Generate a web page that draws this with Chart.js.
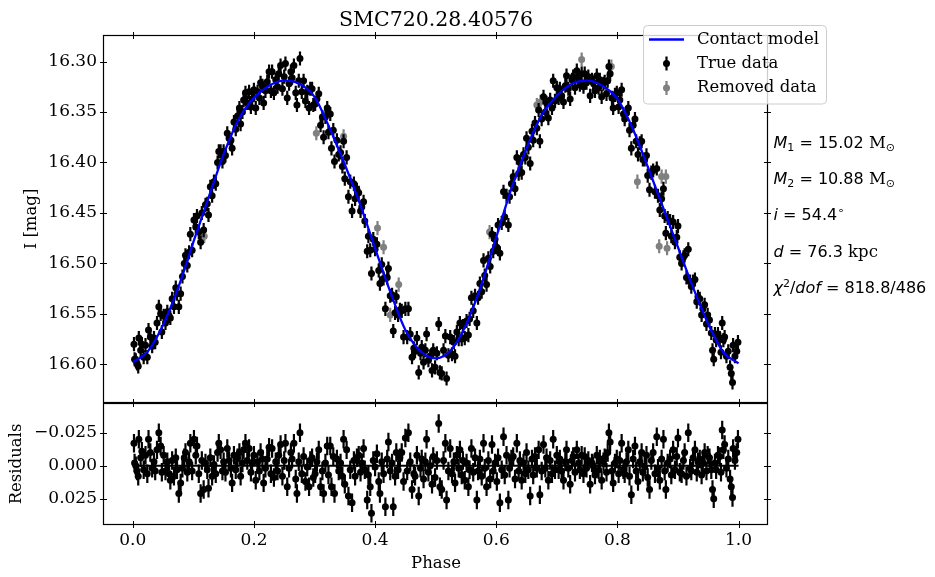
<!DOCTYPE html>
<html>
<head>
<meta charset="utf-8">
<script src="https://cdn.jsdelivr.net/npm/chart.js@4.4.0/dist/chart.umd.min.js"></script>
<style>
  html, body { margin: 0; padding: 0; background: #fff; }
  #wrap { position: relative; width: 935px; height: 577px; }
  #wrap canvas { position: absolute; left: 0; top: 0; }
</style>
</head>
<body>
<div id="wrap">
  <canvas id="lcChart" width="935" height="577"></canvas>
  <canvas id="resChart" width="935" height="577"></canvas>
</div>
<script>
// contact model curve
var modelPhase = [0.000, 0.025, 0.050, 0.075, 0.100, 0.125, 0.150, 0.175, 0.200, 0.225,
  0.250, 0.275, 0.300, 0.325, 0.350, 0.375, 0.400, 0.425, 0.450, 0.475,
  0.500, 0.525, 0.550, 0.575, 0.600, 0.625, 0.650, 0.675, 0.700, 0.725,
  0.750, 0.775, 0.800, 0.825, 0.850, 0.875, 0.900, 0.925, 0.950, 0.975, 1.000];
var modelMag = [16.598, 16.587, 16.561, 16.524, 16.479, 16.435, 16.392, 16.357, 16.336, 16.324,
  16.319, 16.322, 16.335, 16.366, 16.402, 16.441, 16.485, 16.528, 16.566, 16.587,
  16.594, 16.586, 16.561, 16.522, 16.474, 16.426, 16.386, 16.353, 16.334, 16.322,
  16.319, 16.324, 16.337, 16.366, 16.404, 16.444, 16.484, 16.524, 16.560, 16.588, 16.599];

// kept observations (black)
var truePhase = [
  0.002, 0.003, 0.005, 0.007, 0.009, 0.010, 0.013, 0.015, 0.018, 0.021,
  0.024, 0.026, 0.029, 0.032, 0.035, 0.037, 0.040, 0.043, 0.046, 0.048,
  0.051, 0.054, 0.057, 0.060, 0.062, 0.065, 0.068, 0.071, 0.073, 0.076,
  0.079, 0.082, 0.085, 0.087, 0.090, 0.093, 0.095, 0.098, 0.101, 0.104,
  0.106, 0.109, 0.112, 0.114, 0.117, 0.120, 0.123, 0.125, 0.128, 0.131,
  0.134, 0.137, 0.140, 0.142, 0.145, 0.148, 0.150, 0.153, 0.156, 0.159,
  0.162, 0.164, 0.167, 0.170, 0.173, 0.176, 0.178, 0.181, 0.183, 0.186,
  0.189, 0.192, 0.195, 0.197, 0.200, 0.203, 0.206, 0.209, 0.211, 0.214,
  0.216, 0.219, 0.222, 0.225, 0.228, 0.230, 0.233, 0.236, 0.239, 0.241,
  0.244, 0.247, 0.250, 0.252, 0.255, 0.258, 0.261, 0.263, 0.266, 0.269,
  0.271, 0.274, 0.276, 0.279, 0.282, 0.285, 0.288, 0.291, 0.293, 0.296,
  0.298, 0.301, 0.304, 0.307, 0.310, 0.313, 0.315, 0.318, 0.321, 0.323,
  0.326, 0.328, 0.331, 0.333, 0.337, 0.340, 0.343, 0.346, 0.348, 0.350,
  0.353, 0.356, 0.359, 0.362, 0.365, 0.367, 0.370, 0.373, 0.376, 0.378,
  0.381, 0.383, 0.387, 0.389, 0.392, 0.394, 0.397, 0.400, 0.403, 0.406,
  0.408, 0.411, 0.414, 0.417, 0.420, 0.422, 0.425, 0.428, 0.430, 0.433,
  0.435, 0.438, 0.441, 0.444, 0.447, 0.450, 0.453, 0.455, 0.458, 0.461,
  0.464, 0.466, 0.469, 0.472, 0.475, 0.477, 0.480, 0.483, 0.485, 0.488,
  0.491, 0.494, 0.496, 0.499, 0.502, 0.505, 0.507, 0.510, 0.513, 0.516,
  0.518, 0.521, 0.524, 0.527, 0.530, 0.532, 0.535, 0.538, 0.540, 0.543,
  0.545, 0.548, 0.551, 0.554, 0.556, 0.559, 0.562, 0.565, 0.568, 0.570,
  0.573, 0.576, 0.579, 0.581, 0.584, 0.587, 0.590, 0.593, 0.595, 0.598,
  0.601, 0.603, 0.606, 0.609, 0.612, 0.614, 0.617, 0.620, 0.622, 0.625,
  0.628, 0.631, 0.634, 0.637, 0.639, 0.642, 0.645, 0.648, 0.650, 0.653,
  0.656, 0.659, 0.661, 0.664, 0.667, 0.670, 0.672, 0.675, 0.678, 0.681,
  0.683, 0.686, 0.689, 0.692, 0.694, 0.697, 0.700, 0.703,
  0.705, 0.708, 0.711, 0.714, 0.716, 0.719, 0.722, 0.725, 0.727, 0.730,
  0.733, 0.736, 0.738, 0.741, 0.744, 0.746, 0.749, 0.752, 0.755, 0.758,
  0.760, 0.763, 0.766, 0.769, 0.771, 0.774, 0.777, 0.779, 0.782, 0.784,
  0.786, 0.788, 0.791, 0.793, 0.796, 0.799, 0.802, 0.804, 0.807, 0.810,
  0.812, 0.815, 0.818, 0.820, 0.823, 0.826, 0.829, 0.831, 0.834, 0.837,
  0.840, 0.842, 0.845, 0.848, 0.850, 0.853, 0.856, 0.859, 0.862, 0.865,
  0.867, 0.870, 0.873, 0.876, 0.878, 0.880, 0.883, 0.887, 0.889, 0.892,
  0.895, 0.898, 0.900, 0.903, 0.906, 0.909, 0.911, 0.914, 0.917, 0.920,
  0.922, 0.925, 0.928, 0.931, 0.933, 0.936, 0.939, 0.941, 0.944, 0.947,
  0.949, 0.952, 0.955, 0.957, 0.959, 0.961, 0.963, 0.966, 0.969, 0.971,
  0.973, 0.975, 0.977, 0.980, 0.983, 0.986, 0.988, 0.990, 0.991, 0.994, 0.997, 0.999];
var trueMag = [
  16.580, 16.595, 16.596, 16.599, 16.602, 16.574, 16.586, 16.580, 16.593, 16.581,
  16.593, 16.566, 16.573, 16.582, 16.574, 16.578, 16.559, 16.543, 16.550, 16.568,
  16.552, 16.559, 16.548, 16.552, 16.554, 16.535, 16.543, 16.524, 16.530, 16.543,
  16.530, 16.513, 16.500, 16.492, 16.502, 16.489, 16.471, 16.487, 16.457, 16.464,
  16.453, 16.469, 16.479, 16.450, 16.467, 16.442, 16.441, 16.452, 16.424, 16.433,
  16.419, 16.421, 16.400, 16.389, 16.389, 16.399, 16.389, 16.393, 16.371, 16.376,
  16.378, 16.386, 16.360, 16.367, 16.354, 16.346, 16.362, 16.350, 16.338, 16.331,
  16.341, 16.330, 16.345, 16.337, 16.328, 16.346, 16.330, 16.336, 16.321, 16.324,
  16.341, 16.329, 16.320, 16.310, 16.329, 16.310, 16.331, 16.318, 16.325, 16.312,
  16.304, 16.327, 16.315, 16.302, 16.336, 16.322, 16.310, 16.316, 16.304, 16.331,
  16.343, 16.319, 16.297, 16.330, 16.319, 16.339, 16.330, 16.346, 16.327, 16.327,
  16.343, 16.342, 16.337, 16.332, 16.363, 16.355, 16.375, 16.355, 16.346, 16.370,
  16.352, 16.386, 16.368, 16.399, 16.378, 16.392, 16.390, 16.404, 16.379, 16.416,
  16.395, 16.434, 16.419, 16.448, 16.421, 16.436, 16.427, 16.430, 16.448, 16.444,
  16.439, 16.458, 16.488, 16.473, 16.487, 16.510, 16.476, 16.486, 16.481, 16.507,
  16.520, 16.501, 16.515, 16.545, 16.514, 16.505, 16.532, 16.531, 16.567, 16.549,
  16.533, 16.551, 16.546, 16.547, 16.573, 16.545, 16.573, 16.545, 16.570, 16.593,
  16.584, 16.587, 16.574, 16.608, 16.589, 16.583, 16.598, 16.586, 16.570, 16.596,
  16.592, 16.606, 16.586, 16.603, 16.589, 16.560, 16.608, 16.609, 16.586, 16.572,
  16.614, 16.591, 16.573, 16.590, 16.578, 16.592, 16.568, 16.575, 16.559, 16.575,
  16.562, 16.574, 16.557, 16.571, 16.555, 16.534, 16.547, 16.532, 16.559, 16.534,
  16.520, 16.528, 16.497, 16.512, 16.521, 16.495, 16.503, 16.471, 16.488, 16.476,
  16.484, 16.462, 16.490, 16.460, 16.429, 16.454, 16.433, 16.462, 16.434, 16.421,
  16.414, 16.426, 16.395, 16.411, 16.400, 16.410, 16.392, 16.395, 16.376, 16.385,
  16.401, 16.369, 16.378, 16.361, 16.366, 16.348, 16.379, 16.357, 16.335, 16.350,
  16.341, 16.356, 16.338, 16.346, 16.319, 16.339, 16.326, 16.336,
  16.327, 16.334, 16.340, 16.324, 16.314, 16.327, 16.337, 16.318, 16.315, 16.326,
  16.309, 16.318, 16.323, 16.312, 16.325, 16.312, 16.321, 16.315, 16.334, 16.318,
  16.321, 16.329, 16.314, 16.326, 16.318, 16.335, 16.322, 16.320, 16.332, 16.319,
  16.305, 16.312, 16.336, 16.346, 16.333, 16.331, 16.345, 16.338, 16.328, 16.352,
  16.357, 16.351, 16.346, 16.368, 16.386, 16.363, 16.357, 16.379, 16.392, 16.381,
  16.379, 16.397, 16.397, 16.393, 16.413, 16.427, 16.410, 16.408, 16.429, 16.406,
  16.433, 16.447, 16.436, 16.426, 16.453, 16.470, 16.455, 16.458, 16.473, 16.459,
  16.479, 16.474, 16.463, 16.494, 16.500, 16.494, 16.492, 16.514, 16.486, 16.518,
  16.523, 16.518, 16.516, 16.538, 16.533, 16.535, 16.551, 16.545, 16.541, 16.560,
  16.551, 16.556, 16.569, 16.586, 16.595, 16.570, 16.576, 16.570, 16.574, 16.588,
  16.559, 16.576, 16.573, 16.592, 16.587, 16.603, 16.609, 16.618, 16.581, 16.592, 16.587, 16.578];
var trueRes = [
  -0.017, -0.002, 0.000, 0.004, 0.008, -0.020, -0.006, -0.011, 0.003, -0.008,
  0.006, -0.020, -0.010, 0.002, -0.003, 0.004, -0.012, -0.025, -0.015, 0.005,
  -0.008, 0.004, -0.003, 0.006, 0.011, -0.004, 0.008, -0.006, 0.003, 0.021,
  0.013, 0.002, -0.006, -0.010, 0.005, -0.003, -0.017, 0.004, -0.020, -0.008,
  -0.015, 0.006, 0.021, -0.004, 0.018, -0.002, 0.003, 0.017, -0.006, 0.008,
  -0.001, 0.006, -0.010, -0.017, -0.012, 0.004, -0.003, 0.005, -0.013, -0.004,
  0.002, 0.013, -0.008, 0.003, -0.006, -0.010, 0.008, -0.002, -0.012, -0.017,
  -0.004, -0.013, 0.005, -0.002, -0.008, 0.011, -0.003, 0.004, -0.010, -0.005,
  0.013, 0.002, -0.005, -0.014, 0.006, -0.013, 0.009, -0.003, 0.004, -0.008,
  -0.016, 0.008, -0.004, -0.017, 0.016, 0.002, -0.010, -0.005, -0.017, 0.010,
  0.021, -0.003, -0.025, 0.006, -0.007, 0.012, 0.001, 0.016, -0.004, -0.006,
  0.009, 0.006, -0.003, -0.012, 0.016, 0.004, 0.021, -0.002, -0.015, 0.007,
  -0.015, 0.016, -0.007, 0.021, -0.005, 0.004, -0.002, 0.008, -0.020, 0.014,
  -0.012, 0.023, 0.003, 0.028, -0.004, 0.008, -0.006, -0.008, 0.005, -0.002,
  -0.013, 0.003, 0.026, 0.007, 0.016, 0.036, -0.004, 0.001, -0.009, 0.012,
  0.021, -0.003, 0.006, 0.031, -0.005, -0.018, 0.004, -0.002, 0.031, 0.008,
  -0.010, 0.003, -0.006, -0.010, 0.012, -0.021, 0.004, -0.025, -0.003, 0.018,
  0.006, 0.008, -0.008, 0.023, 0.002, -0.005, 0.010, -0.003, -0.020, 0.005,
  0.000, 0.014, -0.007, 0.009, -0.004, -0.032, 0.016, 0.018, -0.004, -0.017,
  0.026, 0.004, -0.013, 0.006, -0.003, 0.013, -0.008, 0.002, -0.012, 0.007,
  -0.004, 0.011, -0.002, 0.016, 0.003, -0.013, 0.005, -0.006, 0.026, 0.004,
  -0.005, 0.008, -0.017, 0.002, 0.016, -0.004, 0.010, -0.016, 0.004, -0.002,
  0.012, -0.006, 0.028, 0.003, -0.022, 0.007, -0.008, 0.026, 0.002, -0.005,
  -0.007, 0.010, -0.017, 0.004, -0.004, 0.011, -0.002, 0.006, -0.010, 0.003,
  0.023, -0.005, 0.007, -0.007, 0.002, -0.012, 0.022, 0.004, -0.016, 0.002,
  -0.006, 0.011, -0.004, 0.006, -0.020, 0.003, -0.008, 0.003,
  -0.005, 0.004, 0.011, -0.003, -0.012, 0.002, 0.014, -0.004, -0.007, 0.005,
  -0.012, -0.002, 0.003, -0.008, 0.006, -0.007, 0.002, -0.004, 0.014, -0.002,
  0.000, 0.007, -0.008, 0.003, -0.005, 0.011, -0.003, -0.006, 0.005, -0.010,
  -0.025, -0.018, 0.004, 0.013, -0.002, -0.005, 0.006, -0.004, -0.017, 0.003,
  0.006, -0.003, -0.012, 0.008, 0.022, -0.005, -0.015, 0.004, 0.012, -0.003,
  -0.010, 0.005, 0.001, -0.008, 0.009, 0.018, -0.004, -0.010, 0.006, -0.022,
  0.002, 0.011, -0.005, -0.020, 0.004, 0.018, -0.002, -0.005, 0.007, -0.012,
  0.003, -0.007, -0.021, 0.005, 0.006, -0.004, -0.010, 0.008, -0.025, 0.002,
  0.004, -0.006, -0.012, 0.005, -0.003, -0.005, 0.007, -0.002, -0.010, 0.004,
  -0.008, -0.006, 0.003, 0.018, 0.025, -0.002, 0.003, -0.008, -0.007, 0.005,
  -0.027, -0.012, -0.016, 0.002, -0.005, 0.010, 0.016, 0.024, -0.013, -0.004, -0.010, -0.020];

// removed observations (grey)
var removedPhase = [0.118, 0.303, 0.348, 0.404, 0.414, 0.425, 0.439, 0.589, 0.667,
  0.673, 0.741, 0.790, 0.833, 0.869, 0.873, 0.880, 0.882];
var removedMag = [16.473, 16.371, 16.374, 16.465, 16.484, 16.551, 16.521, 16.469, 16.343,
  16.340, 16.298, 16.305, 16.419, 16.483, 16.414, 16.414, 16.485];

var magErr = 0.007;

var phaseTicks = [0.0, 0.2, 0.4, 0.6, 0.8, 1.0];
var magTicks = [16.30, 16.35, 16.40, 16.45, 16.50, 16.55, 16.60];
var resTicks = [-0.025, 0.0, 0.025];

var fitLines = [
  [['M', 'mi'], ['1', 'sub'], [' = 15.02', 'm'], [' M', 'rm'], ['\u2299', 'sub']],
  [['M', 'mi'], ['2', 'sub'], [' = 10.88', 'm'], [' M', 'rm'], ['\u2299', 'sub']],
  [['i', 'mi'], [' = 54.4', 'm'], ['\u2218', 'sup']],
  [['d', 'mi'], [' = 76.3', 'm'], [' kpc', 'rm']],
  [['\u03c7', 'mi'], ['2', 'sup'], ['/', 'm'], ['dof', 'mi'], [' = 818.8/486', 'm']]
];

var SERIF = '"DejaVu Serif", serif';
var fitFonts = {
  mi: ['italic 16px "DejaVu Sans"', 0],
  m: ['16px "DejaVu Sans"', 0],
  rm: ['16.5px ' + SERIF, 0],
  sub: ['11px "DejaVu Sans"', 3.5],
  sup: ['11px "DejaVu Sans"', -6.5]
};

function pts(xs, ys) {
  return xs.map(function (x, i) { return { x: x, y: ys[i] }; });
}

// error bars, drawn just before each dataset's dots
var errorBars = {
  id: 'errorBars',
  beforeDatasetDraw: function (chart, args) {
    var ds = chart.data.datasets[args.index];
    if (!ds.errorBar) return;
    var ctx = chart.ctx, ys = chart.scales.y;
    ctx.save();
    ctx.strokeStyle = ds.backgroundColor;
    ctx.lineWidth = 2.2;
    ctx.beginPath();
    args.meta.data.forEach(function (el, i) {
      var v = ds.data[i].y;
      ctx.moveTo(el.x, ys.getPixelForValue(v - ds.errorBar));
      ctx.lineTo(el.x, ys.getPixelForValue(v + ds.errorBar));
    });
    ctx.stroke();
    ctx.restore();
  }
};

// frame with in-out ticks
function drawFrame(chart, yTicks) {
  var a = chart.chartArea, ctx = chart.ctx;
  var xs = chart.scales.x, ys = chart.scales.y;
  var L = a.left - 0.5, R = a.right - 0.5, T = a.top + 0.5, B = a.bottom - 0.5;
  ctx.save();
  ctx.strokeStyle = '#000';
  ctx.lineWidth = 1.2;
  ctx.strokeRect(L, T, R - L, B - T);
  ctx.lineWidth = 1;
  ctx.beginPath();
  phaseTicks.forEach(function (v) {
    var px = Math.round(xs.getPixelForValue(v)) + 0.5;
    ctx.moveTo(px, T - 3.5); ctx.lineTo(px, T + 3.5);
    ctx.moveTo(px, B - 3.5); ctx.lineTo(px, B + 3.5);
  });
  yTicks.forEach(function (v) {
    var py = Math.round(ys.getPixelForValue(v)) + 0.5;
    ctx.moveTo(L - 3.5, py); ctx.lineTo(L + 3.5, py);
    ctx.moveTo(R - 3.5, py); ctx.lineTo(R + 3.5, py);
  });
  ctx.stroke();
  ctx.restore();
}

function vLabel(ctx, text, x, y) {
  ctx.save();
  ctx.translate(x, y);
  ctx.rotate(-Math.PI / 2);
  ctx.textAlign = 'center';
  ctx.textBaseline = 'middle';
  ctx.fillText(text, 0, 0);
  ctx.restore();
}

var lcDecor = {
  id: 'lcDecor',
  afterDraw: function (chart) {
    var ctx = chart.ctx;
    drawFrame(chart, magTicks);
    ctx.save();
    ctx.fillStyle = '#000';
    // title
    ctx.font = '20.5px ' + SERIF;
    ctx.textAlign = 'center';
    ctx.textBaseline = 'alphabetic';
    ctx.fillText('SMC720.28.40576', (chart.chartArea.left + chart.chartArea.right) / 2, 26);
    // y label
    ctx.font = '16.5px ' + SERIF;
    vLabel(ctx, 'I [mag]', 32, (chart.chartArea.top + chart.chartArea.bottom) / 2);

    // legend
    ctx.beginPath();
    ctx.roundRect(643.5, 25.5, 183, 78.5, 4);
    ctx.fillStyle = 'rgba(255,255,255,0.8)';
    ctx.fill();
    ctx.strokeStyle = '#cccccc';
    ctx.lineWidth = 1;
    ctx.stroke();
    var ds = chart.data.datasets;
    ctx.strokeStyle = ds[0].borderColor;
    ctx.lineWidth = 2.3;
    ctx.beginPath(); ctx.moveTo(649, 39.5); ctx.lineTo(684, 39.5); ctx.stroke();
    [[ds[1], 63.5], [ds[2], 88]].forEach(function (it) {
      ctx.strokeStyle = ctx.fillStyle = it[0].backgroundColor;
      ctx.lineWidth = 2.2;
      ctx.beginPath(); ctx.moveTo(666.5, it[1] - 7); ctx.lineTo(666.5, it[1] + 7); ctx.stroke();
      ctx.beginPath(); ctx.arc(666.5, it[1], 3.5, 0, Math.PI * 2); ctx.fill();
    });
    ctx.fillStyle = '#000';
    ctx.font = '16.5px ' + SERIF;
    ctx.textAlign = 'left';
    ctx.textBaseline = 'middle';
    ctx.fillText(ds[0].label, 697, 39.5);
    ctx.fillText(ds[1].label, 697, 63.5);
    ctx.fillText(ds[2].label, 697, 88);

    // fit parameters
    ctx.textBaseline = 'alphabetic';
    fitLines.forEach(function (line, k) {
      var x = 773.5, y = 147.5 + k * 36.4;
      line.forEach(function (piece) {
        var f = fitFonts[piece[1]];
        ctx.font = f[0];
        ctx.fillText(piece[0], x, y + f[1]);
        x += ctx.measureText(piece[0]).width;
      });
    });
    ctx.restore();
  }
};

var resDecor = {
  id: 'resDecor',
  afterDraw: function (chart) {
    var ctx = chart.ctx, a = chart.chartArea;
    drawFrame(chart, resTicks);
    ctx.save();
    ctx.fillStyle = '#000';
    ctx.font = '16.5px ' + SERIF;
    vLabel(ctx, 'Residuals', 17, (a.top + a.bottom) / 2);
    ctx.textAlign = 'center';
    ctx.textBaseline = 'middle';
    ctx.fillText('Phase', (a.left + a.right) / 2, 564);
    ctx.restore();
  }
};

Chart.defaults.font.family = SERIF;
Chart.defaults.color = '#000';

function tickSetter(list) {
  return function (s) { s.ticks = list.map(function (v) { return { value: v }; }); };
}

var lcChart = new Chart(document.getElementById('lcChart'), {
  type: 'scatter',
  data: {
    datasets: [{
      label: 'Contact model',
      type: 'line',
      data: pts(modelPhase, modelMag),
      borderColor: '#0000ff',
      borderWidth: 2.3,
      pointRadius: 0,
      cubicInterpolationMode: 'monotone',
      fill: false,
      order: 0
    }, {
      label: 'True data',
      data: pts(truePhase, trueMag),
      backgroundColor: '#000000',
      pointRadius: 3.5,
      pointBorderWidth: 0,
      errorBar: magErr,
      order: 1
    }, {
      label: 'Removed data',
      data: pts(removedPhase, removedMag),
      backgroundColor: '#808080',
      pointRadius: 3.5,
      pointBorderWidth: 0,
      errorBar: magErr,
      order: 2
    }]
  },
  options: {
    responsive: false,
    animation: false,
    devicePixelRatio: 1,
    layout: { padding: { left: 0, right: 167, top: 35, bottom: 174 } },
    plugins: { legend: { display: false }, tooltip: { enabled: false } },
    scales: {
      x: { type: 'linear', display: false, min: -0.0475, max: 1.0486 },
      y: {
        type: 'linear', reverse: true, min: 16.2737, max: 16.6383,
        afterFit: function (s) { s.width = 104; },
        afterBuildTicks: tickSetter(magTicks),
        grid: { display: false, drawTicks: false },
        border: { display: false },
        ticks: {
          padding: 7,
          font: { size: 17 },
          callback: function (v) { return v.toFixed(2); }
        }
      }
    }
  },
  plugins: [errorBars, lcDecor]
});

var resChart = new Chart(document.getElementById('resChart'), {
  type: 'scatter',
  data: {
    datasets: [{
      label: 'zero',
      type: 'line',
      data: pts([phaseTicks[0], phaseTicks[phaseTicks.length - 1]], [0, 0]),
      borderColor: '#000000',
      borderWidth: 2,
      pointRadius: 0,
      order: 0
    }, {
      label: 'Residuals',
      data: pts(truePhase, trueRes),
      backgroundColor: '#000000',
      pointRadius: 3.5,
      pointBorderWidth: 0,
      errorBar: magErr,
      order: 1
    }]
  },
  options: {
    responsive: false,
    animation: false,
    devicePixelRatio: 1,
    layout: { padding: { left: 0, right: 167, top: 403, bottom: 0 } },
    plugins: { legend: { display: false }, tooltip: { enabled: false } },
    scales: {
      x: {
        type: 'linear', min: -0.0475, max: 1.0486,
        afterFit: function (s) { s.height = 52; },
        afterBuildTicks: tickSetter(phaseTicks),
        grid: { display: false, drawTicks: false },
        border: { display: false },
        ticks: {
          padding: 5, maxRotation: 0, autoSkip: false,
          font: { size: 17 },
          callback: function (v) { return v.toFixed(1); }
        }
      },
      y: {
        type: 'linear', reverse: true, min: -0.0475, max: 0.0449,
        afterFit: function (s) { s.width = 104; },
        afterBuildTicks: tickSetter(resTicks),
        grid: { display: false, drawTicks: false },
        border: { display: false },
        ticks: {
          padding: 7,
          font: { size: 17 },
          callback: function (v) { return (v < 0 ? '\u2212' : '') + Math.abs(v).toFixed(3); }
        }
      }
    }
  },
  plugins: [errorBars, resDecor]
});
</script>
</body>
</html>
